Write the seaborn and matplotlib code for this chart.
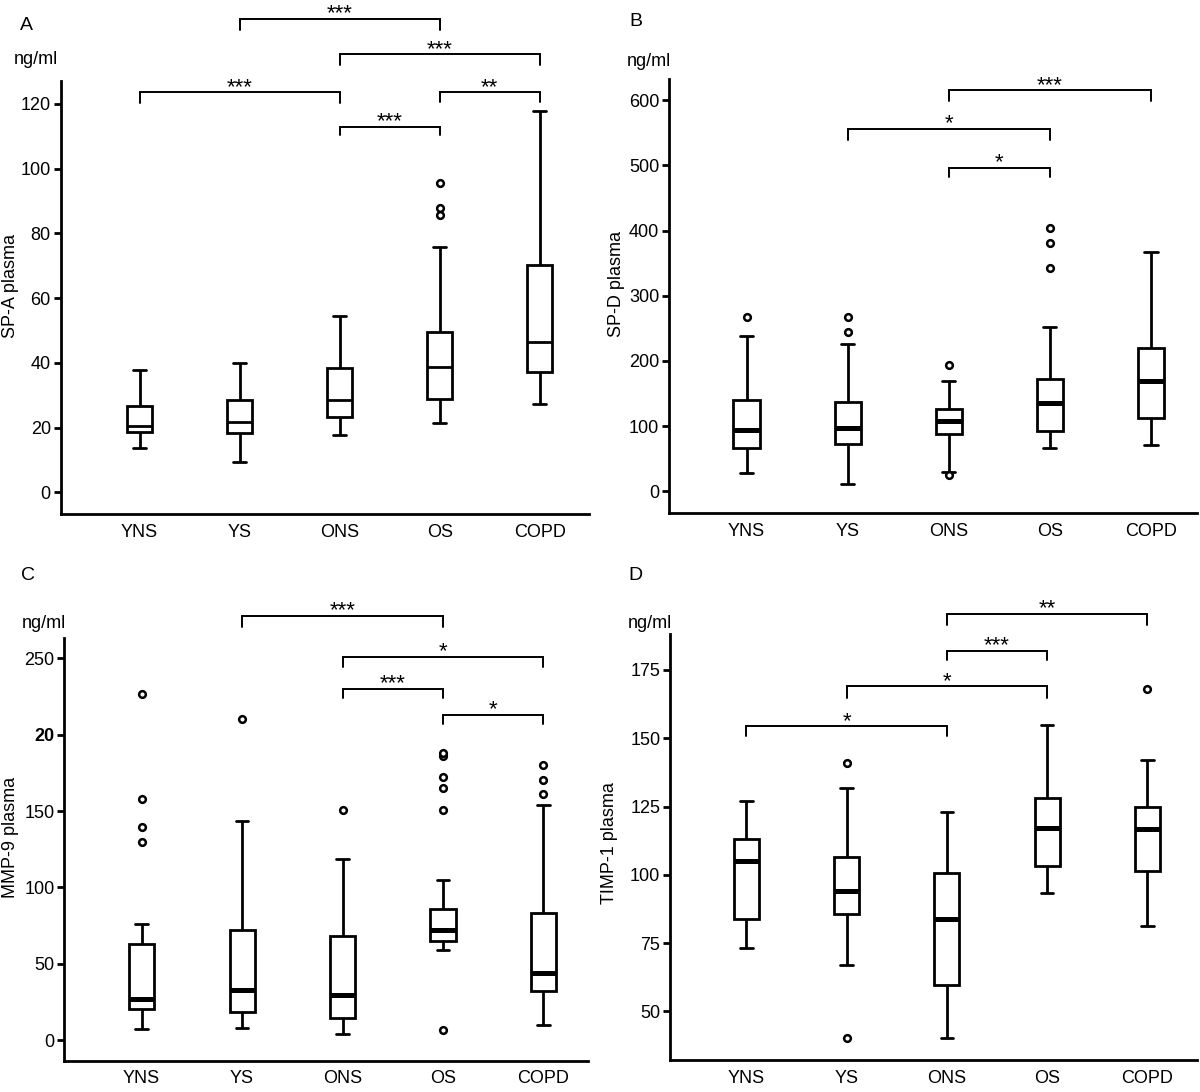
import numpy as np
import pandas as pd
import matplotlib
matplotlib.use("Agg")
import matplotlib.pyplot as plt
import seaborn as sns

# ---------------- data ----------------
groups = ["YNS", "YS", "ONS", "OS", "COPD"]

# Panel A: SP-A plasma (ng/ml) - five-number summaries per group
spa_low  = [13.8, 9.4, 17.8, 21.3, 27.4]
spa_q1   = [18.6, 18.4, 23.4, 29.0, 37.2]
spa_med  = [20.5, 21.8, 28.7, 38.8, 46.5]
spa_q3   = [26.6, 28.5, 38.3, 49.7, 70.2]
spa_high = [37.8, 39.9, 54.6, 75.7, 117.8]
spa_out_group = ["OS", "OS", "OS"]
spa_out_value = [95.7, 87.8, 85.6]
spa_br_from = ["YS", "ONS", "YNS", "OS", "ONS"]
spa_br_to   = ["OS", "COPD", "ONS", "COPD", "OS"]
spa_br_top  = [146.3, 135.4, 123.6, 123.6, 113.0]
spa_br_leg  = [142.9, 131.9, 120.2, 120.5, 110.3]
spa_br_text = ["***", "***", "***", "**", "***"]

# Panel B: SP-D plasma
spd_low  = [27.5, 10.6, 30.0, 66.0, 70.8]
spd_q1   = [66.0, 72.4, 87.2, 92.5, 112.0]
spd_med  = [93.5, 97.8, 107.8, 134.8, 168.6]
spd_q3   = [140.0, 137.0, 126.3, 171.8, 219.3]
spd_high = [239.0, 226.7, 168.6, 252.0, 366.8]
spd_out_group = ["YNS", "YS", "YS", "ONS", "ONS", "OS", "OS", "OS"]
spd_out_value = [268.0, 268.0, 245.0, 194.0, 24.8, 343.0, 381.6, 403.8]
spd_br_from = ["ONS", "YS", "ONS"]
spd_br_to   = ["COPD", "OS", "OS"]
spd_br_top  = [615.7, 556.0, 496.8]
spd_br_leg  = [598.3, 538.6, 482.0]
spd_br_text = ["***", "*", "*"]

# Panel C: MMP-9 plasma
mmp_low  = [7.0, 7.9, 4.1, 58.7, 10.2]
mmp_q1   = [20.3, 18.3, 14.2, 65.0, 32.3]
mmp_med  = [26.6, 32.7, 29.6, 72.2, 44.0]
mmp_q3   = [63.2, 72.4, 67.9, 86.0, 83.5]
mmp_high = [76.3, 143.5, 118.7, 104.9, 154.1]
mmp_out_group = ["YNS", "YNS", "YNS", "YNS", "YS", "ONS",
                 "OS", "OS", "OS", "OS", "OS", "OS",
                 "COPD", "COPD", "COPD"]
mmp_out_value = [130.0, 139.9, 158.2, 227.0, 210.0, 150.7,
                 6.3, 150.7, 165.0, 172.6, 186.4, 188.0,
                 160.9, 170.6, 180.0]
mmp_br_from = ["YS", "ONS", "ONS", "OS"]
mmp_br_to   = ["OS", "COPD", "OS", "COPD"]
mmp_br_top  = [277.8, 251.1, 230.1, 213.2]
mmp_br_leg  = [270.3, 244.4, 224.0, 207.1]
mmp_br_text = ["***", "*", "***", "*"]
mmp_tick_values = [0, 50, 100, 150, 200, 250]
mmp_tick_labels = ["0", "50", "100", "150", "20", "250"]

# Panel D: TIMP-1 plasma
timp_low  = [73.1, 67.0, 40.2, 93.2, 81.1]
timp_q1   = [84.0, 85.5, 59.5, 103.2, 101.4]
timp_med  = [105.1, 94.1, 84.0, 117.0, 116.8]
timp_q3   = [113.0, 106.7, 100.7, 128.1, 125.0]
timp_high = [126.9, 131.9, 123.1, 155.0, 142.2]
timp_out_group = ["YS", "YS", "COPD"]
timp_out_value = [141.0, 40.2, 168.1]
timp_br_from = ["ONS", "ONS", "YS", "YNS"]
timp_br_to   = ["COPD", "OS", "OS", "ONS"]
timp_br_top  = [195.5, 182.1, 169.1, 154.3]
timp_br_leg  = [191.4, 178.5, 164.9, 150.8]
timp_br_text = ["**", "***", "*", "*"]

# ---------------- style ----------------
sns.set_style("ticks")
plt.rcParams["font.family"] = ["Liberation Sans", "DejaVu Sans"]
plt.rcParams["axes.linewidth"] = 2.0
plt.rcParams["text.color"] = "black"
plt.rcParams["axes.labelcolor"] = "black"
plt.rcParams["xtick.color"] = "black"
plt.rcParams["ytick.color"] = "black"
plt.rcParams["axes.edgecolor"] = "black"

W, H = 1200, 1092
fig = plt.figure(figsize=(W / 100, H / 100), dpi=100)
fig.patch.set_facecolor("white")


def px_axes(left, top, right, bottom):
    return fig.add_axes([left / W, 1 - bottom / H, (right - left) / W, (bottom - top) / H])


def long_frame(low, q1, med, q3, high):
    rows = []
    for g, a, b, c, d, e in zip(groups, low, q1, med, q3, high):
        for v in (a, b, c, d, e):
            rows.append((g, v))
    return pd.DataFrame(rows, columns=["group", "value"])


panels = [
    dict(letter="A", ylabel="SP-A plasma",
         stats=(spa_low, spa_q1, spa_med, spa_q3, spa_high),
         out=(spa_out_group, spa_out_value),
         br=(spa_br_from, spa_br_to, spa_br_top, spa_br_leg, spa_br_text),
         rect=(60.5, 81, 589, 513.8), xlim=(-0.792, 4.493), ylim=(-6.6, 127.1),
         ticks=[0, 20, 40, 60, 80, 100, 120], ticklabels=None,
         width=0.25, med_lw=2.0, ylab_xy=(-0.0788, 0.527),
         letter_xy=(26.7, 25), unit_xy=(36, 60)),
    dict(letter="B", ylabel="SP-D plasma",
         stats=(spd_low, spd_q1, spd_med, spd_q3, spd_high),
         out=(spd_out_group, spd_out_value),
         br=(spd_br_from, spd_br_to, spd_br_top, spd_br_leg, spd_br_text),
         rect=(669, 79, 1197, 513), xlim=(-0.768, 4.455), ylim=(-33.3, 632.6),
         ticks=[0, 100, 200, 300, 400, 500, 600], ticklabels=None,
         width=0.26, med_lw=3.6, ylab_xy=(-0.0834, 0.528),
         letter_xy=(636, 21.3), unit_xy=(649, 62)),
    dict(letter="C", ylabel="MMP-9 plasma",
         stats=(mmp_low, mmp_q1, mmp_med, mmp_q3, mmp_high),
         out=(mmp_out_group, mmp_out_value),
         br=(mmp_br_from, mmp_br_to, mmp_br_top, mmp_br_leg, mmp_br_text),
         rect=(64.3, 637.8, 587.5, 1060.7), xlim=(-0.770, 4.439), ylim=(-13.5, 263.5),
         ticks=mmp_tick_values, ticklabels=mmp_tick_labels,
         width=0.25, med_lw=3.6, ylab_xy=(-0.0861, 0.527),
         letter_xy=(27.6, 576), unit_xy=(44.4, 623)),
    dict(letter="D", ylabel="TIMP-1 plasma",
         stats=(timp_low, timp_q1, timp_med, timp_q3, timp_high),
         out=(timp_out_group, timp_out_value),
         br=(timp_br_from, timp_br_to, timp_br_top, timp_br_leg, timp_br_text),
         rect=(670, 634.4, 1197, 1060.3), xlim=(-0.760, 4.494), ylim=(32.1, 188),
         ticks=[50, 75, 100, 125, 150, 175], ticklabels=None,
         width=0.25, med_lw=3.6, ylab_xy=(-0.099, 0.510),
         letter_xy=(635.6, 576), unit_xy=(650, 624)),
]

for p in panels:
    ax = px_axes(*p["rect"])
    ax.set_facecolor("white")
    df = long_frame(*p["stats"])
    sns.boxplot(data=df, x="group", y="value", order=groups, ax=ax,
                whis=(0, 100), width=p["width"], color="white", saturation=1,
                linecolor="black", linewidth=2.0, showfliers=False,
                medianprops={"linewidth": p["med_lw"], "color": "black"})
    og, ov = p["out"]
    sns.stripplot(x=og, y=ov, order=groups, ax=ax, jitter=False,
                  color="white", edgecolor="black", linewidth=1.8, size=4.8,
                  zorder=5)
    # significance brackets
    bf, bt, btop, bleg, btxt = p["br"]
    for f, t, top, leg, txt in zip(bf, bt, btop, bleg, btxt):
        x1, x2 = groups.index(f), groups.index(t)
        ax.plot([x1, x1, x2, x2], [leg, top, top, leg], color="black",
                lw=1.4, clip_on=False, solid_joinstyle="miter")
        ax.annotate(txt, xy=((x1 + x2) / 2, top), xytext=(0, -0.5),
                    textcoords="offset points", ha="center", va="baseline",
                    fontsize=16, annotation_clip=False)

    ax.set_xlim(*p["xlim"])
    ax.set_ylim(*p["ylim"])
    ax.set_yticks(p["ticks"])
    if p["ticklabels"] is not None:
        ax.set_yticklabels(p["ticklabels"])
        for lab in ax.get_yticklabels():
            if lab.get_text() == "20":
                lab.set_fontweight("bold")
    ax.set_xlabel("")
    ax.set_ylabel(p["ylabel"], fontsize=13)
    ax.yaxis.set_label_coords(*p["ylab_xy"])
    ax.tick_params(axis="y", length=5, width=2, pad=2, labelsize=13, direction="out")
    ax.tick_params(axis="x", length=0, pad=7, labelsize=13)
    sns.despine(ax=ax)
    for s in ("left", "bottom"):
        ax.spines[s].set_linewidth(2.0)

    lx, ly = p["letter_xy"]
    fig.text(lx / W, 1 - ly / H, p["letter"], fontsize=14, ha="center", va="center")
    ux, uy = p["unit_xy"]
    fig.text(ux / W, 1 - uy / H, "ng/ml", fontsize=13, ha="center", va="center")

fig.savefig("out.png", dpi=100, facecolor="white")
